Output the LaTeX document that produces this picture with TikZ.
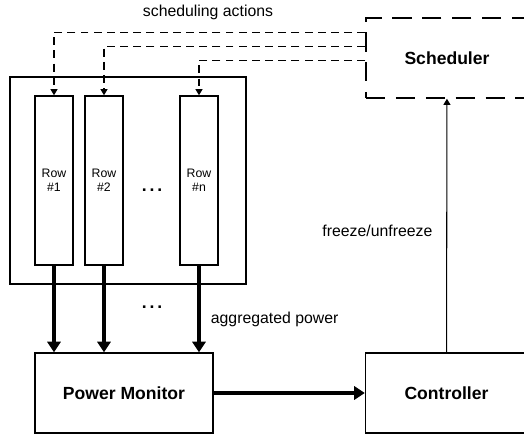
\documentclass[tikz,border=0pt]{standalone}
\usepackage{fontspec}
\setmainfont{Liberation Sans}
\usetikzlibrary{arrows.meta}
\begin{document}
\begin{tikzpicture}[>={Triangle[width=4pt,length=3.5pt]},line join=miter,
box/.style={draw,line width=0.85pt,minimum height=1.6cm,font=\bfseries},
rowbox/.style={draw,line width=0.85pt,minimum width=0.76cm,minimum height=3.38cm,align=center,font=\scriptsize},
act/.style={->,dash pattern=on 4.5pt off 3pt,line width=0.6pt},
pow/.style={-{Triangle[width=7.5pt,length=6pt]},line width=2.3pt},
lab/.style={font=\small}]
\useasboundingbox (0,0) rectangle (10.48,8.68);
\path(8.94,7.52)node[box,dash pattern=on 11pt off 6pt,minimum width=3.24cm](sched){Scheduler}
(2.56,5.07)node[draw,line width=0.6pt,minimum width=4.72cm,minimum height=4.14cm](rack){}
(1.08,5.07)node[rowbox](r1){Row\\\#1} ++(1,0)node[rowbox](r2){Row\\\#2} ++(1.9,0)node[rowbox](rn){Row\\\#n}
(3.04,4.86)node[anchor=base](dotsa){\bfseries .\,.\,.}
(3.04,2.52)node[anchor=base](dotsb){\bfseries .\,.\,.}
(2.48,0.82)node[box,minimum width=3.56cm](pm){Power Monitor}
(8.93,0.82)node[box,minimum width=3.24cm](ctrl){Controller}
(4.16,8.44)node[lab](sa){scheduling actions}
;
% scheduling actions
\draw[act] ([yshift=-0.3cm]sched.north west) -| (r1.north);
\draw[act] ([yshift=-0.58cm]sched.north west) -| (r2.north);
\draw[act] ([yshift=-0.86cm]sched.north west) -| (rn.north);
% aggregated power
\draw[pow] (r1.south) -- (r1.south |- pm.north);
\draw[pow] (r2.south) -- (r2.south |- pm.north);
\draw[pow] (rn.south) -- (rn.south |- pm.north) node[pos=0.625,right,xshift=0.08cm,lab]{aggregated power};
\draw[pow] (pm) -- (ctrl);
\draw[->,line width=0.6pt] (ctrl) -- (sched) node[pos=0.48,left,xshift=-0.16cm,lab]{freeze/unfreeze};
\end{tikzpicture}
\end{document}
